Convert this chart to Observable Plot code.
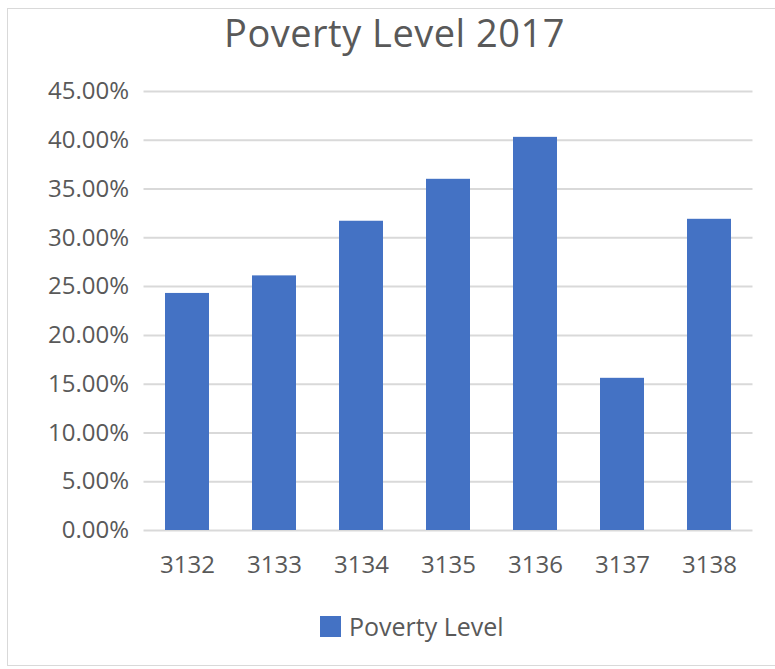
<!DOCTYPE html>
<html>
<head>
<meta charset="utf-8">
<script src="https://cdn.jsdelivr.net/npm/d3@7"></script>
<script src="https://cdn.jsdelivr.net/npm/@observablehq/plot@0.6"></script>
<style>
  html, body { margin: 0; padding: 0; background: #fff; }
  #wrap { position: relative; width: 775px; height: 669px; overflow: hidden; font-family: "Open Sans", sans-serif; color: #595959; }
  #frame { position: absolute; left: 7px; top: 8px; width: 780px; height: 658px; border: 1px solid #d9d9d9; box-sizing: border-box; }
  #title { position: absolute; left: 0; width: 789px; top: 13px; text-align: center; font-size: 38px; line-height: 38px; letter-spacing: 0.5px; color: #595959; white-space: nowrap; }
  #chart { position: absolute; left: 0; top: 0; }
  #legend { position: absolute; left: 320px; top: 609px; display: flex; align-items: center; font-size: 25px; line-height: 34px; color: #595959; white-space: nowrap; }
  #legend .sw { width: 21px; height: 21px; background: #4472C4; margin-right: 8px; }
</style>
</head>
<body>
<div id="wrap">
  <div id="frame"></div>
  <div id="chart"></div>
  <div id="title">Poverty Level 2017</div>
  <div id="legend"><span class="sw"></span><span>Poverty Level</span></div>
</div>
<script>
const zips = ["3132", "3133", "3134", "3135", "3136", "3137", "3138"];
const povertyLevel = [0.243, 0.261, 0.317, 0.360, 0.403, 0.156, 0.319];
const yTicks = [0, 0.05, 0.10, 0.15, 0.20, 0.25, 0.30, 0.35, 0.40, 0.45];
const seriesName = "Poverty Level";

const data = zips.map((z, i) => ({zip: z, value: povertyLevel[i], series: seriesName}));

const chart = Plot.plot({
  width: 775,
  height: 600,
  marginTop: 91,
  marginBottom: 70,
  marginLeft: 143.5,
  marginRight: 22.5,
  style: {fontFamily: "Open Sans", fontSize: "24px", color: "#595959", background: "transparent", overflow: "visible"},
  x: {domain: zips, paddingInner: 0.5, paddingOuter: 0.25, label: null},
  y: {domain: [0, 0.45], label: null},
  marks: [
    Plot.ruleY(yTicks, {stroke: "#d9d9d9", strokeWidth: 2, strokeOpacity: 1}),
    Plot.barY(data, {x: "zip", y: "value", fill: "#4472C4"}),
    Plot.axisY({ticks: yTicks, tickFormat: d3.format(".2%"), tickSize: 0, tickPadding: 15, label: null, fontSize: 24, letterSpacing: 2}),
    Plot.axisX({tickSize: 0, tickPadding: 25, label: null, fontSize: 24, letterSpacing: 1})
  ]
});
document.getElementById("chart").appendChild(chart);
</script>
</body>
</html>
